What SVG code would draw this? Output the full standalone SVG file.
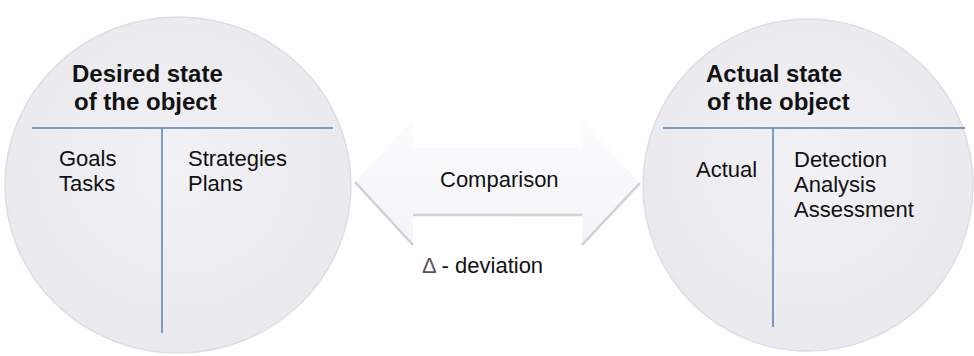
<svg xmlns="http://www.w3.org/2000/svg" width="974" height="356" viewBox="0 0 974 356">
<defs>
<radialGradient id="cg" cx="0.5" cy="0.45" r="0.55">
<stop offset="0" stop-color="#f2f1f5"/>
<stop offset="1" stop-color="#eae9ee"/>
</radialGradient>
<linearGradient id="ag" x1="0" y1="0" x2="0" y2="1">
<stop offset="0" stop-color="#fcfcfe"/>
<stop offset="1" stop-color="#f4f4f8"/>
</linearGradient>
</defs>
<style>
.circ{fill:url(#cg);stroke:#dedee2;stroke-width:1.5}
.div{stroke:#5b7fb3;stroke-width:1.5;fill:none}
.t{font-family:"Liberation Sans",Arial,sans-serif;font-size:22px;fill:#111}
.b{font-family:"Liberation Sans",Arial,sans-serif;font-size:24px;font-weight:bold;fill:#111}
.edge{stroke:#d0d0d4;stroke-width:2.5;fill:none}
</style>
<rect width="974" height="356" fill="#ffffff"/>
<g id="connectors">
<polygon points="355,182 413,120 413,148 582,148 582,120 640,183 582,245 582,215 413,215 413,245" fill="url(#ag)"/>
<polyline class="edge" points="355,182 413,245"/>
<line class="edge" x1="413" y1="215" x2="582" y2="215"/>
<polyline class="edge" points="582,245 640,183"/>
<text class="t" x="440" y="187">Comparison</text>
<text class="t" x="422" y="273"><tspan fill="#555">Δ</tspan> - deviation</text>
</g>
<g id="desired">
<ellipse class="circ" cx="178" cy="185" rx="173" ry="168"/>
<line class="div" x1="32" y1="128" x2="333" y2="128"/>
<line class="div" x1="162" y1="128" x2="162" y2="333"/>
<text class="b" x="72" y="82">Desired state</text>
<text class="b" x="74" y="110">of the object</text>
<text class="t" x="59" y="166">Goals</text>
<text class="t" x="59" y="191">Tasks</text>
<text class="t" x="188" y="166">Strategies</text>
<text class="t" x="188" y="191">Plans</text>
</g>
<g id="actual">
<ellipse class="circ" cx="808" cy="185" rx="165" ry="166"/>
<line class="div" x1="663" y1="128" x2="965" y2="128"/>
<line class="div" x1="773" y1="128" x2="773" y2="327"/>
<text class="b" x="706" y="82">Actual state</text>
<text class="b" x="707" y="110">of the object</text>
<text class="t" x="696" y="177">Actual</text>
<text class="t" x="794" y="167">Detection</text>
<text class="t" x="794" y="192">Analysis</text>
<text class="t" x="794" y="217">Assessment</text>
</g>
</svg>
